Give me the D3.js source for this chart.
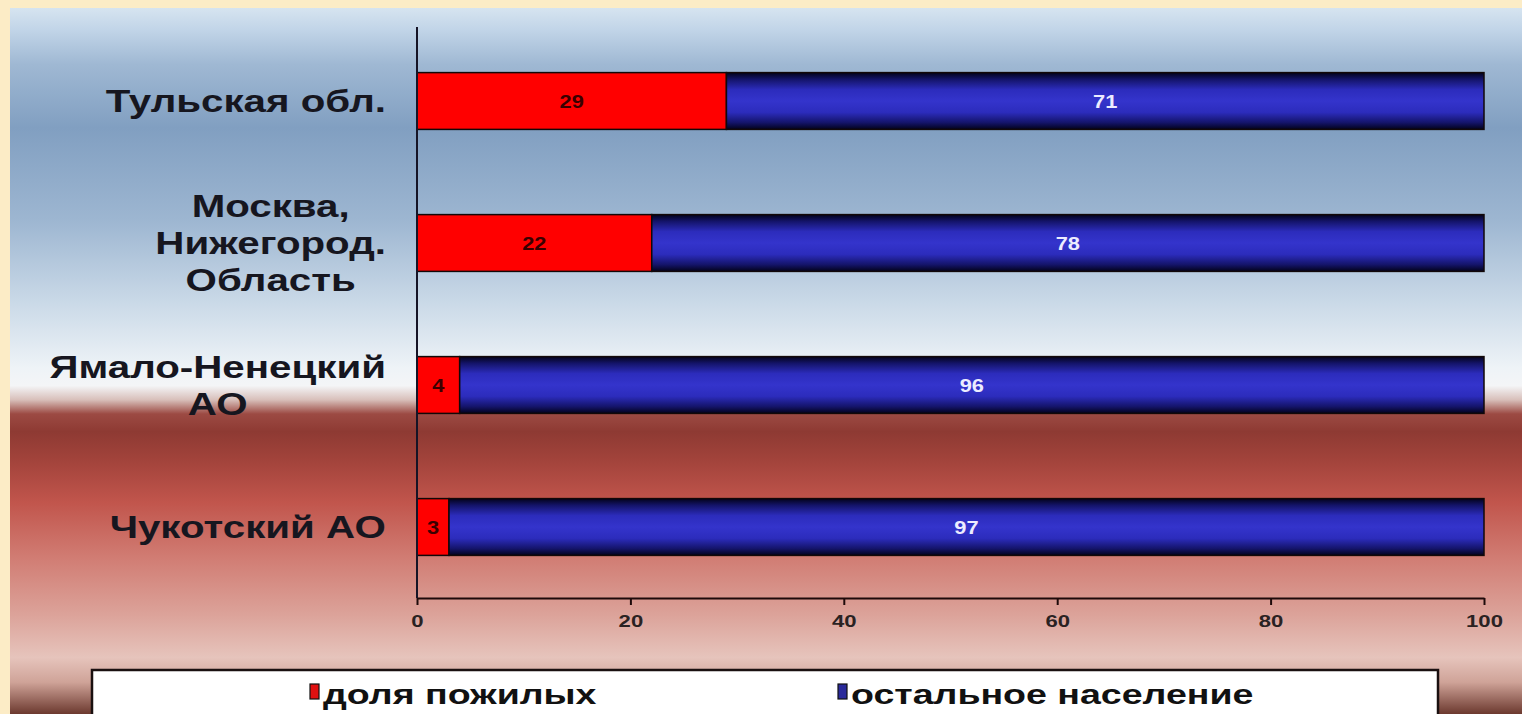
<!DOCTYPE html>
<html>
<head>
<meta charset="utf-8">
<script src="https://cdn.jsdelivr.net/npm/d3@7"></script>
<style>
  html, body { margin: 0; padding: 0; background: #fcecc6; overflow: hidden; }
  svg { display: block; }
  text { font-family: "Liberation Sans", Arial, sans-serif; font-weight: bold; }
</style>
</head>
<body>
<svg id="chart" width="1522" height="714"></svg>
<script>
// Regions (label lines as they wrap on the axis)
const categories = ["Тульская обл.", "Москва, Нижегород. Область", "Ямало-Ненецкий АО", "Чукотский АО"];
const categoryLines = [["Тульская обл."], ["Москва,", "Нижегород.", "Область"], ["Ямало-Ненецкий", "АО"], ["Чукотский АО"]];
// Share of the population, %
const elderlyShare = [29, 22, 4, 3];
const restShare = [71, 78, 96, 97];
const seriesNames = ["доля пожилых", "остальное население"];
const xTicks = [0, 20, 40, 60, 80, 100];

const W = 1522, H = 714;
const svg = d3.select("#chart");
const defs = svg.append("defs");

// Background panel: steel blue fading to white, then deep red fading to pink
const bg = defs.append("linearGradient").attr("id", "panelGrad")
  .attr("x1", 0).attr("y1", 0).attr("x2", 0).attr("y2", 1);
[[0, "#d6e4f0"], [0.03, "#c2d5e8"], [0.08, "#9fb8d3"], [0.17, "#819fc1"], [0.3, "#9db6d1"],
 [0.42, "#cbdae8"], [0.51, "#eef3f7"], [0.535, "#f4f5f7"], [0.555, "#d8bfba"], [0.575, "#9c4a43"],
 [0.6, "#8e3a33"], [0.64, "#a2433b"], [0.7, "#c1554c"], [0.78, "#d17d74"], [0.86, "#dca39a"],
 [0.92, "#e6c4bc"], [0.955, "#cfa398"], [1, "#6c392f"]]
  .forEach(([o, c]) => bg.append("stop").attr("offset", o).attr("stop-color", c));

// Blue segments: dark edges with a bright band through the middle
const bl = defs.append("linearGradient").attr("id", "blueGrad")
  .attr("x1", 0).attr("y1", 0).attr("x2", 0).attr("y2", 1);
[[0, "#02021a"], [0.12, "#14146a"], [0.3, "#2c2cbc"], [0.5, "#3434cc"], [0.7, "#2c2cbc"],
 [0.88, "#14146a"], [1, "#02021a"]]
  .forEach(([o, c]) => bl.append("stop").attr("offset", o).attr("stop-color", c));

svg.append("rect").attr("x", 10).attr("y", 8).attr("width", W - 10).attr("height", H - 8)
  .attr("fill", "url(#panelGrad)");

// Plot area
const x = d3.scaleLinear().domain([0, 100]).range([417, 1484]);
const y = d3.scaleBand().domain(categories).range([30, 598]).paddingInner(0.6).paddingOuter(0.3);

const rows = categories.map((c, i) => ({ category: c, elderly: elderlyShare[i], rest: restShare[i] }));
const stack = d3.stack().keys(["elderly", "rest"]);
const layers = stack(rows);
const fills = { elderly: "#ff0000", rest: "url(#blueGrad)" };
const labelColors = { elderly: "#3a0000", rest: "#ececff" };

const STRETCH = 1.3;
function stretched(sel, px, py, sx) {
  return sel.attr("transform", `translate(${px},${py}) scale(${sx},1)`);
}

layers.forEach(layer => {
  const g = svg.append("g");
  g.selectAll("rect").data(layer).join("rect")
    .attr("x", d => x(d[0]))
    .attr("y", d => y(d.data.category))
    .attr("width", d => x(d[1]) - x(d[0]))
    .attr("height", y.bandwidth())
    .attr("fill", fills[layer.key])
    .attr("stroke", "#120808")
    .attr("stroke-width", 1.5);
  g.selectAll("text").data(layer).join("text")
    .attr("text-anchor", "middle")
    .attr("font-size", 19)
    .attr("fill", labelColors[layer.key])
    .text(d => d.data[layer.key])
    .each(function (d) {
      stretched(d3.select(this), (x(d[0]) + x(d[1])) / 2, y(d.data.category) + y.bandwidth() / 2 + 7, 1.15);
    });
});

// Y axis line
svg.append("line").attr("x1", x(0)).attr("x2", x(0)).attr("y1", 27).attr("y2", 598)
  .attr("stroke", "#161426").attr("stroke-width", 2);

// X axis with ticks below
const xAxis = svg.append("g").attr("transform", "translate(0,598)")
  .call(d3.axisBottom(x).tickValues(xTicks).tickSize(7).tickPadding(4).tickSizeOuter(0));
xAxis.select(".domain").attr("stroke", "#1e0a0a").attr("stroke-width", 2);
xAxis.selectAll(".tick line").attr("stroke", "#1e0a0a").attr("stroke-width", 2);
xAxis.selectAll(".tick text").attr("fill", "#2a2222").attr("font-size", 17)
  .attr("font-family", "Liberation Sans, Arial, sans-serif").attr("font-weight", "bold")
  .attr("dy", null).attr("y", 29)
  .attr("transform", "scale(1.3,1)")
  .attr("x", 0);

// Category labels: each block centred on itself, right-aligned to the axis
const LABEL_RIGHT = 386, LINE_H = 37, CAT_FS = 31;
categoryLines.forEach((lines, i) => {
  const cy = y(categories[i]) + y.bandwidth() / 2;
  const g = svg.append("g");
  const texts = lines.map(l => g.append("text").attr("font-size", CAT_FS).attr("fill", "#16161f")
    .attr("text-anchor", "middle").text(l));
  const maxW = d3.max(texts, t => t.node().getComputedTextLength()) * STRETCH;
  const cx = LABEL_RIGHT - maxW / 2;
  texts.forEach((t, j) => {
    const ly = cy + (j - (lines.length - 1) / 2) * LINE_H + 11;
    stretched(t, cx, ly, STRETCH);
  });
});

// Legend
svg.append("rect").attr("x", 92).attr("y", 670).attr("width", 1346).attr("height", 70)
  .attr("fill", "#ffffff").attr("stroke", "#1a1010").attr("stroke-width", 2.5);
const legendX = [310, 838];
const legendFill = ["#e01010", "#2a2a9a"];
seriesNames.forEach((name, i) => {
  svg.append("rect").attr("x", legendX[i]).attr("y", 684).attr("width", 9).attr("height", 15)
    .attr("fill", legendFill[i]).attr("stroke", "#111").attr("stroke-width", 1.2);
  stretched(svg.append("text").attr("font-size", 27).attr("fill", "#111").text(name),
    legendX[i] + 13, 704, 1.39);
});
</script>
</body>
</html>
